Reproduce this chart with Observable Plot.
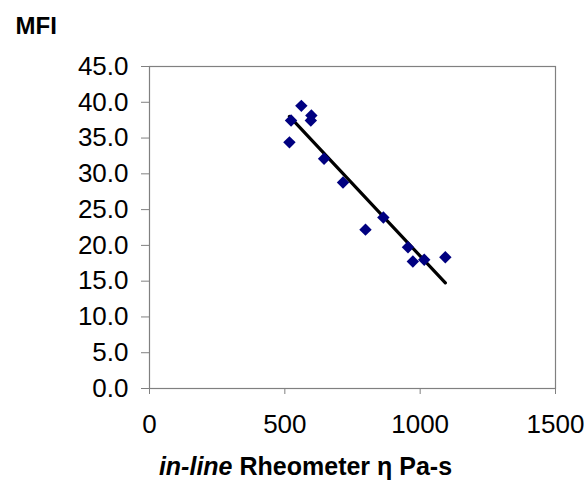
<!DOCTYPE html>
<html>
<head>
<meta charset="utf-8">
<script src="https://cdn.jsdelivr.net/npm/d3@7"></script>
<script src="https://cdn.jsdelivr.net/npm/@observablehq/plot@0.6"></script>
<style>
  html, body { margin: 0; padding: 0; background: #fff; }
</style>
</head>
<body>
<div id="chart"></div>
<script>
// Data
const eta = [517, 523, 561, 598, 596, 645, 715, 798, 864, 955, 973, 1015, 1093];
const mfi = [34.4, 37.45, 39.5, 38.15, 37.45, 32.1, 28.8, 22.2, 23.9, 19.75, 17.75, 18.0, 18.35];
const xTicks = [0, 500, 1000, 1500];
const yTicks = [0, 5, 10, 15, 20, 25, 30, 35, 40, 45];
const yTitle = "MFI";
const xTitleItalic = "in-line";
const xTitleRest = "Rheometer η Pa-s";

const data = eta.map((x, i) => ({x, y: mfi[i]}));

const chart = Plot.plot({
  width: 584,
  height: 484,
  marginLeft: 149,
  marginRight: 29,
  marginTop: 66,
  marginBottom: 96,
  x: {domain: [0, 1500]},
  y: {domain: [0, 45]},
  style: {fontFamily: "'Liberation Sans', Arial, sans-serif", fontSize: "26px", color: "#000", background: "#fff"},
  marks: [
    Plot.frame({stroke: "#808080", strokeWidth: 1.2}),
    Plot.axisY({ticks: yTicks, tickFormat: d3.format(".1f"), tickSize: 8, tickPadding: 13, label: null, stroke: "#808080", fill: "#000", fontSize: 26}),
    Plot.axisX({ticks: xTicks, tickFormat: d3.format("d"), tickSize: 6, tickPadding: 20, label: null, stroke: "#808080", fill: "#000", fontSize: 26}),
    Plot.linearRegressionY(data, {x: "x", y: "y", ci: 0, stroke: "#000", strokeWidth: 3.2}),
    Plot.dot(data, {x: "x", y: "y", symbol: "diamond2", r: 5.6, fill: "#000080", stroke: "none"}),
    Plot.text([yTitle], {frameAnchor: "top-left", dx: -134, dy: -40, textAnchor: "start", lineAnchor: "middle", fontWeight: "bold", fontSize: 24}),
    Plot.text([xTitleItalic], {frameAnchor: "bottom-left", dx: 83, dy: 86, textAnchor: "end", lineAnchor: "bottom", fontWeight: "bold", fontStyle: "italic", fontSize: 25}),
    Plot.text([xTitleRest], {frameAnchor: "bottom-left", dx: 90, dy: 86, textAnchor: "start", lineAnchor: "bottom", fontWeight: "bold", fontSize: 25})
  ]
});
document.getElementById("chart").appendChild(chart);
</script>
</body>
</html>
